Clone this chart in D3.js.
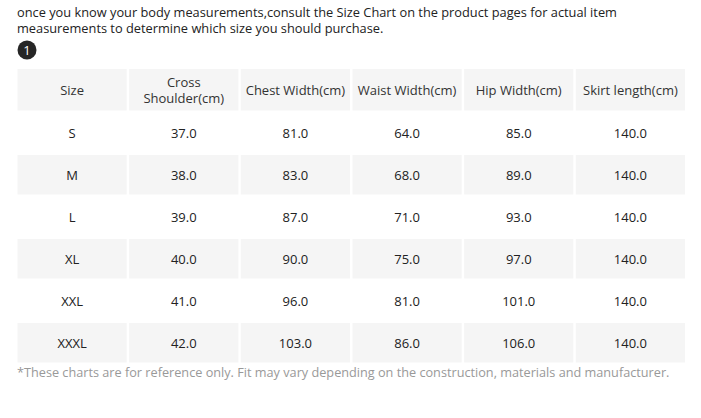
<!DOCTYPE html>
<html>
<head>
<meta charset="utf-8">
<script src="https://cdn.jsdelivr.net/npm/d3@7"></script>
<style>
  body { margin: 0; background: #fff; }
  svg { display: block; font-family: "Open Sans", sans-serif; }
</style>
</head>
<body>
<div id="chart"></div>
<script>
// table contents
const headers = ['Size', 'Cross Shoulder(cm)', 'Chest Width(cm)', 'Waist Width(cm)', 'Hip Width(cm)', 'Skirt length(cm)'];
const sizes = ['S', 'M', 'L', 'XL', 'XXL', 'XXXL'];
const crossShoulder = ['37.0', '38.0', '39.0', '40.0', '41.0', '42.0'];
const chestWidth = ['81.0', '83.0', '87.0', '90.0', '96.0', '103.0'];
const waistWidth = ['64.0', '68.0', '71.0', '75.0', '81.0', '86.0'];
const hipWidth = ['85.0', '89.0', '93.0', '97.0', '101.0', '106.0'];
const skirtLength = ['140.0', '140.0', '140.0', '140.0', '140.0', '140.0'];
const introLines = [
  'once you know your body measurements,consult the Size Chart on the product pages for actual item',
  'measurements to determine which size you should purchase.'
];
const footnote = '*These charts are for reference only. Fit may vary depending on the construction, materials and manufacturer.';

const dimensions = {
  width: 701,
  height: 418,
  tableLeft: 17.5,
  tableRight: 685,
  headerTop: 69,
  headerHeight: 41.5,
  bodyTop: 113,
  bodyBottom: 362.5
};

const columns = [sizes, crossShoulder, chestWidth, waistWidth, hipWidth, skirtLength];

const svg = d3.select('#chart')
  .append('svg')
  .attr('width', dimensions.width)
  .attr('height', dimensions.height);

// intro text above the table
svg.selectAll('.intro')
  .data(introLines)
  .enter().append('text')
  .attr('class', 'intro')
  .attr('x', 17)
  .attr('y', (d, i) => 17 + i * 16)
  .attr('font-size', '12.8px')
  .attr('fill', '#222')
  .text(d => d);

// numbered badge
const badge = svg.append('g').attr('transform', 'translate(27,50)');
badge.append('circle').attr('r', 9.5).attr('fill', '#262626');
badge.append('text')
  .attr('text-anchor', 'middle')
  .attr('dominant-baseline', 'central')
  .attr('font-size', '13px')
  .attr('fill', '#fff')
  .text('1');

// scales for columns and rows
const xScale = d3.scaleBand()
  .domain(headers)
  .range([dimensions.tableLeft, dimensions.tableRight])
  .paddingInner(0.022)
  .paddingOuter(0);

const yScale = d3.scaleBand()
  .domain(sizes)
  .range([dimensions.bodyTop, dimensions.bodyBottom])
  .paddingInner(0.0595)
  .paddingOuter(0);

// header row
const header = svg.append('g');
header.selectAll('rect')
  .data(headers)
  .enter().append('rect')
  .attr('x', d => xScale(d))
  .attr('y', dimensions.headerTop)
  .attr('width', xScale.bandwidth())
  .attr('height', dimensions.headerHeight)
  .attr('fill', '#f5f5f5');

const headerCy = dimensions.headerTop + dimensions.headerHeight / 2;
header.selectAll('text')
  .data(headers)
  .enter().append('text')
  .attr('x', d => xScale(d) + xScale.bandwidth() / 2)
  .attr('y', headerCy)
  .attr('text-anchor', 'middle')
  .attr('font-size', '13px')
  .attr('fill', '#333')
  .each(function (d) {
    // the cross shoulder header wraps onto two lines
    const lines = d === 'Cross Shoulder(cm)' ? ['Cross', 'Shoulder(cm)'] : [d];
    const t = d3.select(this);
    lines.forEach((line, i) => {
      t.append('tspan')
        .attr('x', xScale(d) + xScale.bandwidth() / 2)
        .attr('y', headerCy + (i - (lines.length - 1) / 2) * 15.5)
        .attr('dominant-baseline', 'central')
        .text(line);
    });
  });

// body rows, every other one shaded
const rows = svg.selectAll('.row')
  .data(sizes)
  .enter().append('g')
  .attr('class', 'row');

rows.selectAll('rect')
  .data((size, r) => headers.map(h => ({ size, h, r })))
  .enter().append('rect')
  .attr('x', d => xScale(d.h))
  .attr('y', d => yScale(d.size))
  .attr('width', xScale.bandwidth())
  .attr('height', yScale.bandwidth())
  .attr('fill', d => d.r % 2 === 1 ? '#f5f5f5' : '#fff');

rows.selectAll('text')
  .data((size, r) => headers.map((h, c) => ({ size, h, value: columns[c][r] })))
  .enter().append('text')
  .attr('x', d => xScale(d.h) + xScale.bandwidth() / 2)
  .attr('y', d => yScale(d.size) + yScale.bandwidth() / 2)
  .attr('text-anchor', 'middle')
  .attr('dominant-baseline', 'central')
  .attr('font-size', '13px')
  .attr('fill', '#222')
  .text(d => d.value);

// footnote
svg.append('text')
  .attr('x', 17)
  .attr('y', 377)
  .attr('font-size', '12.7px')
  .attr('fill', '#999')
  .text(footnote);
</script>
</body>
</html>
